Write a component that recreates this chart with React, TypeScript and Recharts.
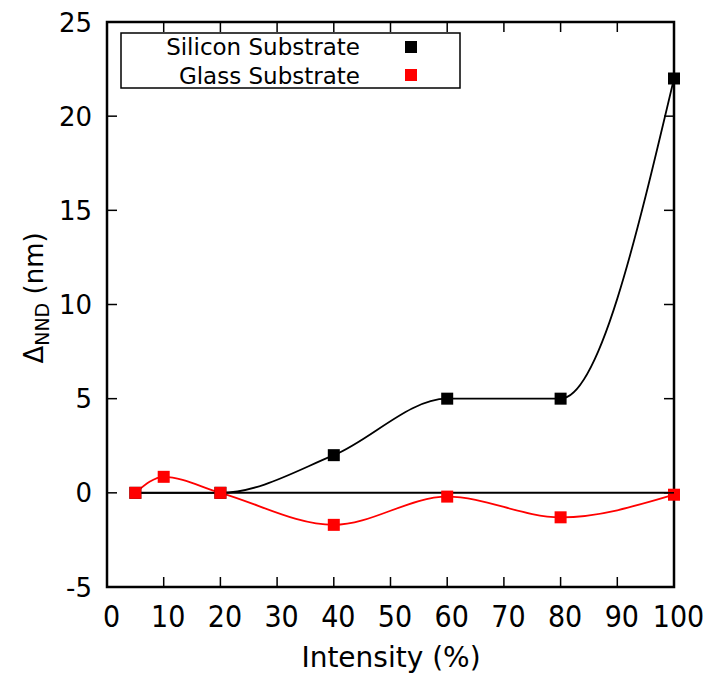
import React from 'react';
import { ComposedChart, Line, XAxis, YAxis, ReferenceArea, ReferenceLine } from 'recharts';

// data
const X_TICKS = [0, 10, 20, 30, 40, 50, 60, 70, 80, 90, 100];
const Y_TICKS = [-5, 0, 5, 10, 15, 20, 25];

const INTENSITY_SI = [5, 20, 40, 60, 80, 100];
const DELTA_SI = [0, 0, 2, 5, 5, 22];

const INTENSITY_GLASS = [5, 10, 20, 40, 60, 80, 100];
const DELTA_GLASS = [0, 0.85, 0, -1.7, -0.2, -1.3, -0.1];

const ZERO_LINE_X = [5, 100];

const siData = INTENSITY_SI.map((x, i) => ({ x, y: DELTA_SI[i] }));
const glassData = INTENSITY_GLASS.map((x, i) => ({ x, y: DELTA_GLASS[i] }));

const W = 710;
const H = 675;
const PLOT = { left: 107, top: 22, right: 674, bottom: 587 };
const FONT = '"DejaVu Sans", Verdana, sans-serif';
const TICK_LEN = 10;

const XTick = (props: any) => {
  const { x, payload } = props;
  return (
    <g>
      <line x1={x} y1={PLOT.bottom} x2={x} y2={PLOT.bottom - TICK_LEN} stroke="#000" strokeWidth={1.5} />
      <line x1={x} y1={PLOT.top} x2={x} y2={PLOT.top + TICK_LEN} stroke="#000" strokeWidth={1.5} />
      <text
        transform={`translate(${x + 4.5},627) scale(1,1.12)`}
        textAnchor="middle"
        fontFamily={FONT}
        fontSize={27}
        fill="#000"
      >
        {payload.value}
      </text>
    </g>
  );
};

const YTick = (props: any) => {
  const { y, payload } = props;
  return (
    <g>
      <line x1={PLOT.left} y1={y} x2={PLOT.left + TICK_LEN} y2={y} stroke="#000" strokeWidth={1.5} />
      <line x1={PLOT.right} y1={y} x2={PLOT.right - TICK_LEN} y2={y} stroke="#000" strokeWidth={1.5} />
      <text x={92} y={y + 9.5} textAnchor="end" fontFamily={FONT} fontSize={26} fill="#000">
        {payload.value}
      </text>
    </g>
  );
};

const squareDot = (color: string) => (p: any) => {
  if (p.cx == null || p.cy == null) return <g key={`d-${p.index}`} />;
  return <rect key={`d-${p.index}`} x={p.cx - 6} y={p.cy - 6} width={12} height={12} fill={color} />;
};

export default function App() {
  return (
    <div style={{ position: 'absolute', left: 0, top: 0, width: W, height: H, background: '#fff' }}>
      <ComposedChart width={W} height={H} margin={{ top: 22, right: 36, bottom: 28, left: 0 }}>
        <XAxis
          type="number"
          dataKey="x"
          domain={[0, 100]}
          ticks={X_TICKS}
          interval={0}
          height={60}
          axisLine={false}
          tickLine={false}
          tick={XTick}
          label={{
            content: () => (
              <text x={391} y={667} textAnchor="middle" fontFamily={FONT} fontSize={28} fill="#000">
                Intensity (%)
              </text>
            ),
          }}
        />
        <YAxis
          type="number"
          domain={[-5, 25]}
          ticks={Y_TICKS}
          interval={0}
          width={107}
          axisLine={false}
          tickLine={false}
          tick={YTick}
          label={{
            content: () => (
              <text
                transform="translate(43,298) rotate(-90)"
                textAnchor="middle"
                fontFamily={FONT}
                fontSize={26}
                fill="#000"
              >
                Δ
                <tspan fontSize={19} dy={6}>NND</tspan>
                <tspan dy={-6}> (nm)</tspan>
              </text>
            ),
          }}
        />
        <ReferenceArea x1={0} x2={100} y1={-5} y2={25} fill="none" stroke="#000" strokeWidth={2.5} />
        <ReferenceLine
          segment={[
            { x: ZERO_LINE_X[0], y: 0 },
            { x: ZERO_LINE_X[1], y: 0 },
          ]}
          stroke="#000"
          strokeWidth={2}
        />
        <Line
          data={siData}
          dataKey="y"
          type="monotone"
          stroke="#000"
          strokeWidth={1.8}
          dot={squareDot('#000')}
          activeDot={false}
          isAnimationActive={false}
        />
        <Line
          data={glassData}
          dataKey="y"
          type="monotone"
          stroke="#ff0000"
          strokeWidth={1.8}
          dot={squareDot('#ff0000')}
          activeDot={false}
          isAnimationActive={false}
        />
      </ComposedChart>
      <svg width={W} height={H} style={{ position: 'absolute', left: 0, top: 0, pointerEvents: 'none' }}>
        <rect x={121} y={33} width={339} height={55} fill="none" stroke="#000" strokeWidth={1.5} />
        <text x={360} y={55} textAnchor="end" fontFamily={FONT} fontSize={23} fill="#000">
          Silicon Substrate
        </text>
        <rect x={405} y={41} width={12} height={12} fill="#000" />
        <text x={360} y={84} textAnchor="end" fontFamily={FONT} fontSize={23} fill="#000">
          Glass Substrate
        </text>
        <rect x={405} y={69} width={12} height={12} fill="#ff0000" />
      </svg>
    </div>
  );
}
